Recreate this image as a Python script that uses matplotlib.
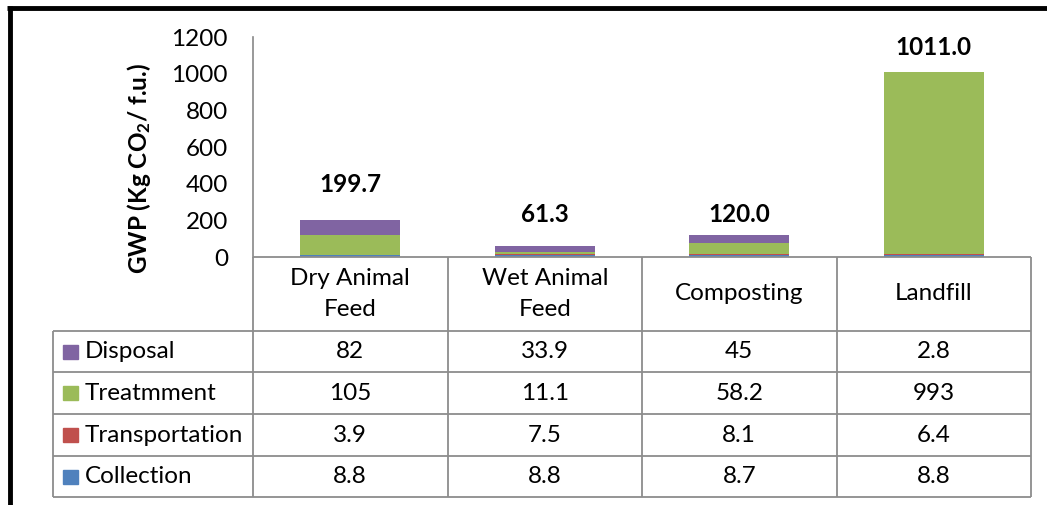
import matplotlib
matplotlib.use("Agg")
import matplotlib.pyplot as plt
from matplotlib.lines import Line2D
from matplotlib.patches import Rectangle

plt.rcParams['font.family'] = ['Lato', 'DejaVu Sans']
plt.rcParams['mathtext.fontset'] = 'custom'
plt.rcParams['mathtext.rm'] = 'Lato:bold'
plt.rcParams['mathtext.it'] = 'Lato:bold'
plt.rcParams['mathtext.bf'] = 'Lato:bold'

categories = ["Dry Animal\nFeed", "Wet Animal\nFeed", "Composting", "Landfill"]
series_names = ["Collection", "Transportation", "Treatmment", "Disposal"]
collection = [8.8, 8.8, 8.7, 8.8]
transportation = [3.9, 7.5, 8.1, 6.4]
treatment = [105, 11.1, 58.2, 993]
disposal = [82, 33.9, 45, 2.8]
series_values = [collection, transportation, treatment, disposal]
colors = ["#4F81BD", "#C0504D", "#9BBB59", "#8064A2"]
yticks = [0, 200, 400, 600, 800, 1000, 1200]
label_offsets_px = [36, 31, 20, 24]

W, H = 1047, 505
FS = 17.5
fig = plt.figure(figsize=(W / 100, H / 100), dpi=100)

def fx(x):
    return x / W

def fy(y):
    return 1 - y / H

ax_l, ax_r, ax_t, ax_b = 253, 1031, 37, 257
ax = fig.add_axes([fx(ax_l), fy(ax_b), (ax_r - ax_l) / W, (ax_b - ax_t) / H])
n = len(categories)
ax.set_xlim(-0.5, n - 0.5)
ax.set_ylim(0, 1200)
bottom = [0.0] * n
for vals, col in zip(series_values, colors):
    ax.bar(range(n), vals, width=0.514, bottom=bottom, color=col, zorder=2)
    bottom = [b + v for b, v in zip(bottom, vals)]
totals = bottom
for i, t in enumerate(totals):
    ax.annotate(f"{t:.1f}", (i, t), xytext=(0, label_offsets_px[i] * 0.72),
                textcoords='offset points', ha='center', va='center',
                fontsize=FS, fontweight='bold')

for s in ['top', 'right', 'bottom']:
    ax.spines[s].set_visible(False)
ax.spines['left'].set_color('#888888')
ax.spines['left'].set_linewidth(1.2)
ax.set_xticks([])
ax.set_yticks(yticks)
ax.tick_params(axis='y', length=0, pad=18, labelsize=FS)
ax.patch.set_alpha(0)

fig.text(fx(139), fy(168), r"GWP (Kg CO$_2$/ f.u.)", rotation=90, ha='center',
         va='center', fontsize=FS, fontweight='bold')

# table
gray = '#8C8C8C'
col_w = (ax_r - ax_l) / n
col_edges = [ax_l + i * col_w for i in range(n + 1)]
row_edges = [257, 331, 372, 414, 456, 497]
tab_left = 53

def line(x0, y0, x1, y1, c=gray, lw=1.3):
    fig.add_artist(Line2D([fx(x0), fx(x1)], [fy(y0), fy(y1)], color=c, lw=lw,
                          transform=fig.transFigure, solid_capstyle='butt'))

line(ax_l, row_edges[0], ax_r, row_edges[0])
for y in row_edges[1:]:
    line(tab_left, y, ax_r, y)
for x in col_edges:
    line(x, row_edges[0], x, row_edges[-1])
line(tab_left, row_edges[1], tab_left, row_edges[-1])

for i, c in enumerate(categories):
    cx = (col_edges[i] + col_edges[i + 1]) / 2
    fig.text(fx(cx), fy((row_edges[0] + row_edges[1]) / 2), c, ha='center',
             va='center', fontsize=FS, linespacing=1.55)

rows_order = list(range(len(series_names)))[::-1]
for r, si in enumerate(rows_order):
    yc = (row_edges[r + 1] + row_edges[r + 2]) / 2
    fig.add_artist(Rectangle((fx(63), fy(yc + 7)), 15 / W, 14 / H,
                             color=colors[si], transform=fig.transFigure))
    fig.text(fx(85), fy(yc), series_names[si], ha='left', va='center', fontsize=FS)
    for i in range(n):
        cx = (col_edges[i] + col_edges[i + 1]) / 2
        fig.text(fx(cx), fy(yc), f"{series_values[si][i]:g}", ha='center',
                 va='center', fontsize=FS)

# outer frame
line(7, 7.5, W, 7.5, c='black', lw=3.5)
line(9.5, 5.5, 9.5, H, c='black', lw=3.5)

fig.savefig("out.png", dpi=100)
